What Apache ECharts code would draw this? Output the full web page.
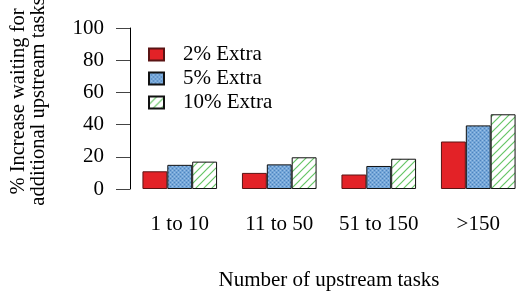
<!DOCTYPE html>
<html>
<head>
<meta charset="utf-8">
<script src="https://cdn.jsdelivr.net/npm/echarts@6/dist/echarts.min.js"></script>
<style>
  html, body { margin: 0; padding: 0; background: #fff; }
  #chart { width: 518px; height: 296px; }
</style>
</head>
<body>
<div id="chart"></div>
<script>
// data
var categories = ['1 to 10', '11 to 50', '51 to 150', '>150'];
var seriesNames = ['2% Extra', '5% Extra', '10% Extra'];
var extra2 = [11, 10, 9, 29.5];
var extra5 = [15, 15.3, 14.3, 39.5];
var extra10 = [17, 19.7, 18.8, 46.4];
var yTicks = [0, 20, 40, 60, 80, 100];

// fill patterns
function dotPattern() {
    var c = document.createElement('canvas');
    c.width = 4; c.height = 4;
    var x = c.getContext('2d');
    x.fillStyle = '#74a6d8';
    x.fillRect(0, 0, 4, 4);
    x.fillStyle = '#4f83bd';
    x.fillRect(0, 0, 1, 1);
    x.fillRect(2, 2, 1, 1);
    x.fillStyle = '#9cc0e6';
    x.fillRect(2, 0, 1, 1);
    x.fillRect(0, 2, 1, 1);
    return c;
}
function hatchPattern() {
    var c = document.createElement('canvas');
    c.width = 8; c.height = 8;
    var x = c.getContext('2d');
    x.fillStyle = '#ffffff';
    x.fillRect(0, 0, 8, 8);
    x.strokeStyle = '#66c566';
    x.lineWidth = 1.2;
    x.beginPath();
    x.moveTo(-1, 9); x.lineTo(9, -1);
    x.moveTo(-1, 1); x.lineTo(1, -1);
    x.moveTo(7, 9); x.lineTo(9, 7);
    x.stroke();
    return c;
}

var font = 'Liberation Serif';
var fs = 21;
var chart = echarts.init(document.getElementById('chart'));

chart.setOption({
    animation: false,
    textStyle: { fontFamily: font },
    grid: { left: 130, top: 28, width: 398, height: 161, containLabel: false, outerBoundsMode: 'none' },
    legend: {
        orient: 'vertical',
        left: 148, top: 44,
        padding: 0,
        icon: 'rect',
        itemWidth: 15, itemHeight: 12, itemGap: 3,
        textStyle: { fontFamily: font, fontSize: fs, lineHeight: 21, color: '#000', padding: [0, 0, 0, 14] },
        data: seriesNames
    },
    xAxis: {
        type: 'category',
        data: categories,
        axisLine: { show: false },
        axisTick: { show: false },
        axisLabel: { interval: 0, margin: 25, fontFamily: font, fontSize: fs, color: '#000' },
        name: 'Number of upstream tasks',
        nameLocation: 'middle',
        nameGap: 81,
        nameTextStyle: { fontFamily: font, fontSize: fs, color: '#000' }
    },
    yAxis: {
        type: 'value',
        min: yTicks[0], max: yTicks[yTicks.length - 1], interval: 20,
        axisLine: { show: true, lineStyle: { color: '#000', width: 1 } },
        axisTick: { show: true, inside: false, length: 14, lineStyle: { color: '#444' } },
        splitLine: { show: false },
        axisLabel: { margin: 26, fontFamily: font, fontSize: fs, color: '#000' },
        name: '% Increase waiting for\nadditional upstream tasks',
        nameLocation: 'middle',
        nameRotate: 90,
        nameGap: 81,
        nameTextStyle: { fontFamily: font, fontSize: 20.5, color: '#000', lineHeight: 20, padding: [0, 0, 0, 14] }
    },
    series: [
        {
            name: seriesNames[0], type: 'bar', data: extra2,
            barCategoryGap: '25%', barGap: '0%',
            itemStyle: { color: '#e32227', borderColor: '#5a1414', borderWidth: 1 }
        },
        {
            name: seriesNames[1], type: 'bar', data: extra5,
            barGap: '0%',
            itemStyle: { color: { image: dotPattern(), repeat: 'repeat' }, borderColor: '#111', borderWidth: 1 }
        },
        {
            name: seriesNames[2], type: 'bar', data: extra10,
            barGap: '0%',
            itemStyle: { color: { image: hatchPattern(), repeat: 'repeat' }, borderColor: '#111', borderWidth: 1 }
        }
    ]
});
</script>
</body>
</html>
